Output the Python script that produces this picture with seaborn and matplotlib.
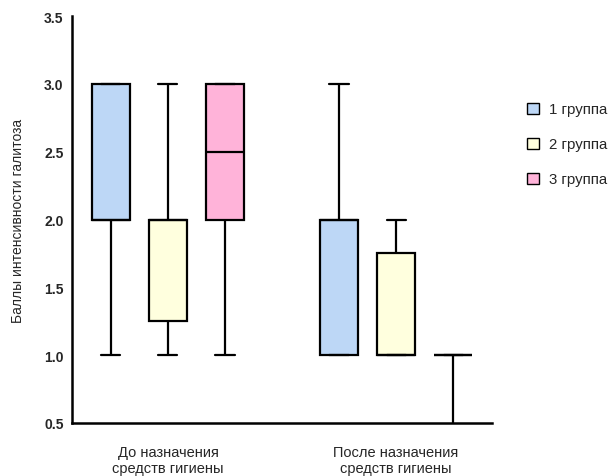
import numpy as np
import pandas as pd
import matplotlib
matplotlib.use("Agg")
import matplotlib.pyplot as plt
from matplotlib.patches import Patch
import seaborn as sns

# Score samples reconstructed from the box summaries (min, Q1, median, Q3, max)
before_g1 = [1, 2, 2, 2, 2, 3, 3, 3, 3]
before_g2 = [1, 1, 2, 2, 2, 3]
before_g3 = [1, 2, 2, 3, 3, 3]
after_g1 = [1, 1, 1, 2, 2, 2, 2, 2, 3]
after_g2 = [1, 1, 1, 1, 2, 2]
after_g3 = [0, 1, 1, 1, 1, 1]

groups = ["1 группа", "2 группа", "3 группа"]
periods = ["До назначения\nсредств гигиены", "После назначения\nсредств гигиены"]
colors = ["#BDD7F6", "#FFFFDE", "#FFB3D9"]
slots = ["b1", "b2", "b3", "gap", "a1", "a2", "a3"]

rows = []
for slot, grp, vals in [("b1", groups[0], before_g1), ("b2", groups[1], before_g2),
                        ("b3", groups[2], before_g3), ("a1", groups[0], after_g1),
                        ("a2", groups[1], after_g2), ("a3", groups[2], after_g3)]:
    for v in vals:
        rows.append({"slot": slot, "group": grp, "score": v})
df = pd.DataFrame(rows)

sns.set_style("white")
plt.rcParams["font.family"] = ["Liberation Sans", "DejaVu Sans"]

fig = plt.figure(figsize=(6.13, 4.77), dpi=100)
ax = fig.add_axes([72 / 613, 1 - 424 / 477, (492 - 72) / 613, (424 - 17) / 477])

sns.boxplot(data=df, x="slot", y="score", hue="group", order=slots, hue_order=groups,
            palette=colors, saturation=1, dodge=False, whis=(0, 100), width=0.667,
            linecolor="black", linewidth=1.6, legend=False, ax=ax)

ax.set_ylim(0.5, 3.5)
ax.set_xlim(-0.684, 6.684)
ax.set_yticks([0.5, 1.0, 1.5, 2.0, 2.5, 3.0, 3.5])
ax.set_yticklabels([f"{v:.1f}" for v in [0.5, 1.0, 1.5, 2.0, 2.5, 3.0, 3.5]],
                   fontsize=10, fontweight="bold")
ax.set_xticks(range(7))
ax.set_xticklabels(["", periods[0], "", "", "", periods[1], ""], fontsize=10.5,
                   linespacing=1.2)
ax.tick_params(axis="both", direction="out", length=6, width=1.5, color="black")
ax.tick_params(axis="x", pad=10)
ax.tick_params(axis="y", pad=0)
for s in ["top", "right"]:
    ax.spines[s].set_visible(False)
for s in ["left", "bottom"]:
    ax.spines[s].set_linewidth(1.8)
    ax.spines[s].set_color("black")
ax.set_xlabel("")
ax.set_ylabel("Баллы интенсивности галитоза", fontsize=10, labelpad=14)

handles = [Patch(facecolor=c, edgecolor="black", linewidth=1.0, label=g)
           for c, g in zip(colors, groups)]
fig.legend(handles=handles, loc="upper left", bbox_to_anchor=(513 / 613, 1 - 90 / 477),
           frameon=False, fontsize=10.8, handlelength=0.8, handleheight=0.8,
           handletextpad=0.7, labelspacing=1.4)

fig.savefig("out.png", dpi=100)
